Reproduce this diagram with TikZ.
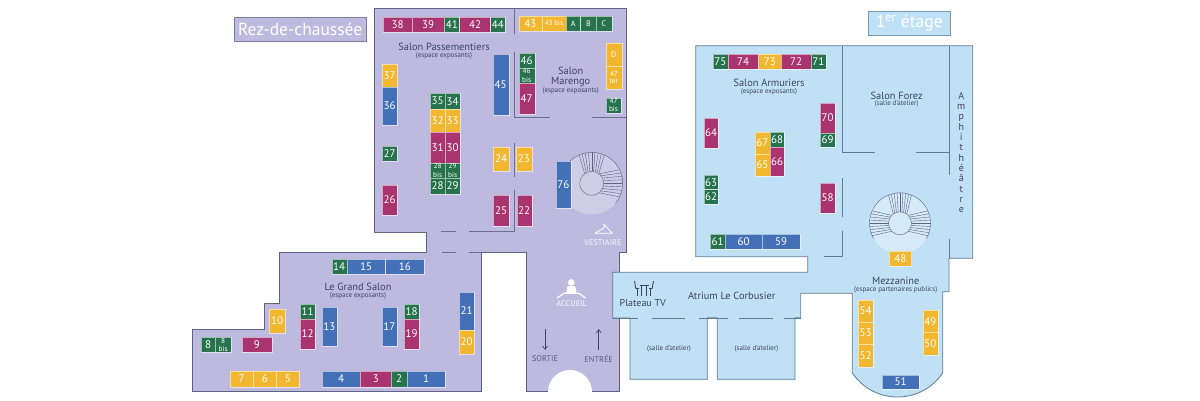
\documentclass[tikz,border=0pt]{standalone}
\usepackage{fontspec}
\setmainfont{PT Sans}
\usetikzlibrary{arrows.meta}
\definecolor{rdc}{HTML}{BDB9DF}
\definecolor{etg}{HTML}{BFE0F5}
\definecolor{rdclight}{HTML}{CFCCE8}
\definecolor{etglight}{HTML}{D5EAF8}
\definecolor{wallr}{HTML}{5E6285}
\definecolor{walle}{HTML}{5C7C98}
\definecolor{sblue}{HTML}{4470B8}
\definecolor{smag}{HTML}{A9346F}
\definecolor{sgreen}{HTML}{26734D}
\definecolor{syel}{HTML}{F2B731}
\definecolor{ink}{HTML}{3D4660}
\newcommand\stand[7]{%
  \pgfmathsetmacro\sw{#4-#2}\pgfmathsetmacro\sh{#5-#3}%
  \node[standbox,fill=#1,minimum width=\sw pt,minimum height=\sh pt] (#6) at ({(#2+#4)/2},{(#3+#5)/2}) {#7};}
\newcommand\bislab[2]{\fontsize{7.3}{6.4}\selectfont\shortstack{#1\\#2}}
\tikzset{
  standbox/.style={inner sep=0pt,outer sep=0pt,draw=white,draw opacity=.55,line width=.4pt,text=white,align=center,font=\fontsize{11}{11}\selectfont},
  floorr/.style={fill=rdc,draw=wallr,line width=.8pt,line join=miter},
  floore/.style={fill=etg,draw=walle,line width=.8pt,line join=miter},
  wallR/.style={draw=wallr!85!rdc,line width=1pt},
  wallE/.style={draw=walle,line width=.9pt},
  title/.style={inner sep=0pt,text=ink,font=\fontsize{10.4}{10.4}\selectfont},
  sub/.style={inner sep=0pt,text=ink,font=\fontsize{7}{7}\selectfont},
  caps/.style={inner sep=0pt,font=\fontsize{8.3}{8.3}\selectfont},
  flagbox/.style={inner sep=0pt,text=white,font=\fontsize{17.5}{17.5}\selectfont},
  stepline/.style={draw=wallr,line width=.4pt},
  icon/.style={draw=white,line width=.8pt,line join=round},
  tvline/.style={draw=ink,line width=.9pt},
}
\begin{document}
\begin{tikzpicture}[x=1pt,y=-1pt]
\useasboundingbox (0,0) rectangle (1200,400);
% ---- ground floor
\path[floorr] (374,8) -- (626.5,8) -- (626.5,252) -- (619,252) -- (619,391.5) -- (526,391.5) -- (526,252) -- (481,252) -- (481,391.5) -- (192,391.5) -- (192,329) -- (264,329) -- (264,303) -- (279,303) -- (279,252) -- (426,252) -- (426,232) -- (374,232) -- cycle;
\fill[white] (570,392) circle[radius=22];
\draw[wallR] (514.7,8) -- (514.7,34);
\draw[wallR] (514.7,51.7) -- (514.7,117.7) -- (550,117.7);
\draw[wallR] (591.7,117.7) -- (626,117.7);
\draw[wallR] (514,143) -- (514,177);
\draw[wallR] (514,190) -- (514,231) -- (469,231);
\draw[wallR] (441,231) -- (456,231);
\draw[wallR] (442,252) -- (456,252);
\draw[wallR] (469,252) -- (481,252);
% stairs ground
\begin{scope}[shift={(591.7,183.3)},yscale=-1]
  \fill[rdclight] (0,0) circle[radius=31];
  \draw[stepline] (-40:31) arc[start angle=-40,end angle=200,radius=31];
  \draw[stepline,fill=rdclight] (0,0) circle[radius=12];
  \foreach \i in {-4,...,4}{
    \draw[stepline] ({\i*13}:12) -- ({\i*6.5}:31);
    \draw[stepline] ({90+\i*9}:12) -- ({90+\i*6}:31);
  }
\end{scope}
% ---- first floor
\path[floore] (695.7,45.7) -- (972.7,45.7) -- (972.7,258.3) -- (949,258.3) -- (949,291.7) -- (942.7,291.7) -- (942.7,373) .. controls (921,405) and (874,405) .. (852.3,373) -- (852.3,293.3) -- (800.7,293.3) -- (800.7,317.7) -- (795,317.7) -- (795,379.3) -- (717.3,379.3) -- (717.3,317.7) -- (707.3,317.7) -- (707.3,379.3) -- (630,379.3) -- (630,318) -- (612.7,318) -- (612.7,272.3) -- (807.7,272.3) -- (807.7,256.7) -- (695.7,256.7) -- cycle;
\draw[wallE] (842.3,45.7) -- (842.3,152.7) -- (875,152.7);
\draw[wallE] (916,152.7) -- (949,152.7);
\draw[wallE] (949,45.7) -- (949,175);
\draw[wallE] (949,239.3) -- (949,258.3);
\draw[wallE] (842.3,178) -- (842.3,217.3);
\draw[wallE] (842.3,230.7) -- (842.3,256) -- (824.3,256);
\draw[wallE] (612.7,318) -- (638,318);
\draw[wallE] (652.3,318) -- (685,318);
\draw[wallE] (699,318) -- (728.3,318);
\draw[wallE] (739.3,318) -- (772.7,318);
\draw[wallE] (784,318) -- (800.7,318);
% stairs first floor
\begin{scope}[shift={(900,223.3)},yscale=-1]
  \fill[etglight] (0,0) circle[radius=30.5];
  \draw[stepline] (-30:30.5) arc[start angle=-30,end angle=210,radius=30.5];
  \draw[stepline,fill=etglight] (0,0) circle[radius=11.5];
  \foreach \i in {-4,...,4}{
    \draw[stepline] ({\i*11}:11.5) -- ({\i*6}:30.5);
    \draw[stepline] ({180+\i*11}:11.5) -- ({180+\i*6}:30.5);
    \draw[stepline] ({90+\i*9}:11.5) -- ({90+\i*5.5}:30.5);
  }
\end{scope}
% ---- flags
\node[flagbox,fill=rdc,draw=wallr!70!rdc,line width=.6pt,minimum width=131.5pt,minimum height=24pt] (rdcflag) at (300.2,29) {Rez-de-chaussée};
\node[flagbox,fill=etg,draw=walle!70!etg,line width=.6pt,minimum width=81.7pt,minimum height=23.3pt] (etgflag) at (909.2,23.3) {1\textsuperscript{er} étage};
% ---- ground stands
\stand{smag}{382.7}{17}{412.3}{32}{s38}{38}
\stand{smag}{412.3}{17}{444}{32}{s39}{39}
\stand{sgreen}{444}{17}{459.5}{32}{s41}{41}
\stand{smag}{459.5}{17}{490.5}{32}{s42}{42}
\stand{sgreen}{490.5}{17}{505}{32}{s44}{44}
\stand{syel}{518.7}{16}{542}{31}{s43}{43}
\stand{syel}{542}{16}{566}{31}{s43b}{\fontsize{7}{7}\selectfont 43 bis}
\stand{sgreen}{566}{16}{580.5}{31}{sA}{\fontsize{8}{8}\selectfont A}
\stand{sgreen}{580.5}{16}{596.3}{31}{sB}{\fontsize{8}{8}\selectfont B}
\stand{sgreen}{596.3}{16}{611.7}{31}{sC}{\fontsize{8}{8}\selectfont C}
\stand{sblue}{492.7}{54}{508.7}{115}{s45}{45}
\stand{sgreen}{518.7}{52.7}{534.7}{67.7}{s46}{46}
\stand{sgreen}{518.7}{67.7}{534.7}{83.3}{s46b}{\bislab{46}{bis}}
\stand{smag}{518.7}{83.3}{534.7}{114.3}{s47}{47}
\stand{syel}{606}{42.7}{621.7}{66}{sD}{\fontsize{8}{8}\selectfont D}
\stand{syel}{606}{66}{621.7}{89.3}{s47t}{\bislab{47}{ter}}
\stand{sgreen}{606}{97.7}{621}{112.7}{s47b}{\bislab{47}{bis}}
\stand{syel}{382}{64}{397.3}{87}{s37}{37}
\stand{sblue}{382}{87}{397.3}{125}{s36}{36}
\stand{sgreen}{382}{145.7}{397.3}{161}{s27}{27}
\stand{smag}{382}{185}{397.3}{215}{s26}{26}
\stand{sgreen}{430}{93.3}{445.3}{109}{s35}{35}
\stand{sgreen}{445.3}{93.3}{460}{109}{s34}{34}
\stand{syel}{430}{109}{445.3}{132.3}{s32}{32}
\stand{syel}{445.3}{109}{460}{132.3}{s33}{33}
\stand{smag}{430}{132.3}{445.3}{162.7}{s31}{31}
\stand{smag}{445.3}{132.3}{460}{162.7}{s30}{30}
\stand{sgreen}{430}{162.7}{445.3}{178.3}{s28b}{\bislab{28}{bis}}
\stand{sgreen}{445.3}{162.7}{460}{178.3}{s29b}{\bislab{29}{bis}}
\stand{sgreen}{430}{178.3}{445.3}{193.7}{s28}{28}
\stand{sgreen}{445.3}{178.3}{460}{193.7}{s29}{29}
\stand{syel}{493.3}{147.3}{509}{170.7}{s24}{24}
\stand{syel}{516}{147.3}{531.7}{170.7}{s23}{23}
\stand{smag}{493.3}{195}{508.7}{225.7}{s25}{25}
\stand{smag}{516.7}{195}{531.7}{225.7}{s22}{22}
\stand{sblue}{555.7}{160.7}{571}{207.7}{s76}{76}
% Grand Salon
\stand{sgreen}{331.7}{259}{346.7}{273.7}{s14}{14}
\stand{sblue}{346.7}{259}{385.6}{273.7}{s15}{15}
\stand{sblue}{385.6}{259}{424}{273.7}{s16}{16}
\stand{sgreen}{300}{304}{315}{318.7}{s11}{11}
\stand{smag}{300}{318.7}{315}{349.3}{s12}{12}
\stand{sblue}{321.7}{307}{337}{345.7}{s13}{13}
\stand{sblue}{382}{307}{396.7}{345.7}{s17}{17}
\stand{sgreen}{404}{304}{419}{318.7}{s18}{18}
\stand{smag}{404}{318.7}{419}{349}{s19}{19}
\stand{sblue}{459}{292}{474}{330}{s21}{21}
\stand{syel}{459}{330}{474}{354}{s20}{20}
\stand{syel}{269.3}{309.3}{284.7}{332.7}{s10}{10}
\stand{sgreen}{200.7}{337.3}{215.4}{352.3}{s8}{8}
\stand{sgreen}{215.4}{337.3}{231}{352.3}{s8b}{\bislab{8}{bis}}
\stand{smag}{241.7}{337.3}{272}{352.3}{s9}{9}
\stand{syel}{229.7}{371}{253.3}{386.7}{s7}{7}
\stand{syel}{253.3}{371}{276.3}{386.7}{s6}{6}
\stand{syel}{276.3}{371}{299.3}{386.7}{s5}{5}
\stand{sblue}{322}{371}{360.3}{386.7}{s4}{4}
\stand{smag}{360.3}{371}{391.3}{386.7}{s3}{3}
\stand{sgreen}{391.3}{371}{406.7}{386.7}{s2}{2}
\stand{sblue}{406.7}{371}{445.3}{386.7}{s1}{1}
% ---- first floor stands
\stand{sgreen}{712.7}{54}{727.9}{69}{s75}{75}
\stand{smag}{727.9}{54}{758.5}{69}{s74}{74}
\stand{syel}{758.5}{54}{781.3}{69}{s73}{73}
\stand{smag}{781.3}{54}{810.8}{69}{s72}{72}
\stand{sgreen}{810.8}{54}{825.7}{69}{s71}{71}
\stand{smag}{820.3}{102.7}{835}{132.7}{s70}{70}
\stand{sgreen}{820.3}{132.7}{835}{147}{s69}{69}
\stand{smag}{703.7}{118}{718.3}{148}{s64}{64}
\stand{syel}{754.7}{132}{770}{154}{s67}{67}
\stand{syel}{754.7}{154}{770}{176}{s65}{65}
\stand{sgreen}{770}{132}{784.3}{146.7}{s68}{68}
\stand{smag}{770}{146.7}{784.3}{176}{s66}{66}
\stand{sgreen}{703.7}{175}{718.3}{189.5}{s63}{63}
\stand{sgreen}{703.7}{189.5}{718.3}{204}{s62}{62}
\stand{smag}{820.3}{183}{835}{212.7}{s58}{58}
\stand{sgreen}{710}{234}{725}{248.7}{s61}{61}
\stand{sblue}{725}{234}{762.3}{248.7}{s60}{60}
\stand{sblue}{762.3}{234}{800}{248.7}{s59}{59}
\stand{syel}{889}{251}{911.5}{266}{s48}{48}
\stand{syel}{858}{300}{873}{321.7}{s54}{54}
\stand{syel}{858}{321.7}{873}{344}{s53}{53}
\stand{syel}{858}{344}{873}{366.7}{s52}{52}
\stand{syel}{923}{310.3}{937.7}{332.3}{s49}{49}
\stand{syel}{923}{332.3}{937.7}{355}{s50}{50}
\stand{sblue}{882}{375}{919}{389}{s51}{51}
% ---- titles
\node[title] (tPass) at (444,47) {Salon Passementiers};
\node[sub] (sPass) at (444,56) {(espace exposants)};
\node[title,align=center,font=\fontsize{10.4}{10}\selectfont] (tMar) at (570.7,76.7) {Salon\\Marengo};
\node[sub] (sMar) at (570.7,90.7) {(espace exposants)};
\node[title] (tGS) at (358,286.7) {Le Grand Salon};
\node[sub] (sGS) at (358,295.7) {(espace exposants)};
\node[title] (tArm) at (769,83.3) {Salon Armuriers};
\node[sub] (sArm) at (769,91.7) {(espace exposants)};
\node[title] (tFor) at (896.7,95.7) {Salon Forez};
\node[sub] (sFor) at (896.7,103.7) {(salle d'atelier)};
\node[title] (tAtr) at (731.7,295.7) {Atrium Le Corbusier};
\node[title] (tMez) at (895.7,280.7) {Mezzanine};
\node[sub] (sMez) at (895.7,289.3) {(espace partenaires publics)};
\node[sub] (sal1) at (669,349) {(salle d'atelier)};
\node[sub] (sal2) at (756.5,349) {(salle d'atelier)};
\node[title,font=\fontsize{10}{10}\selectfont] (tTV) at (642.7,303.3) {Plateau TV};
\node[title,align=center,font=\fontsize{10}{10.33}\selectfont] (tAmp) at (961.3,152.5) {A\\m\\p\\h\\i\\t\\h\\é\\â\\t\\r\\e};
\node[caps,text=white!85!rdc] (tVes) at (603,242.7) {VESTIAIRE};
\node[caps,text=white!90!rdc] (tAcc) at (571.7,303.3) {ACCUEIL};
\node[caps,text=ink!80!rdc] (tSor) at (545,359) {SORTIE};
\node[caps,text=ink!80!rdc] (tEnt) at (598.7,359) {ENTRÉE};
% arrows
\coordinate (sorA) at (545,329);
\coordinate (sorB) at (545,350);
\coordinate (entA) at (598.7,350);
\coordinate (entB) at (598.7,329);
\draw[draw=ink,line width=.6pt,-{Straight Barb[length=3.5pt,width=5pt]}] (sorA) -- (sorB);
\draw[draw=ink,line width=.6pt,-{Straight Barb[length=3.5pt,width=5pt]}] (entA) -- (entB);
% icons
\draw[icon] (603.3,224) .. controls (605.5,224) and (605,227) .. (603.3,228.3) -- (595,233.3) -- (612.3,233.3) -- cycle;
\fill[white] (571.3,282.5) circle[radius=3.3];
\fill[white,rounded corners=1pt] (567.3,286.2) -- (575.3,286.2) -- (576.5,293.5) -- (566.2,293.5) -- cycle;
\draw[icon,line width=1.2pt] (557,298) -- (564,293.3) -- (579,293.3) -- (585.5,298);
\draw[tvline] (634.5,281) -- (635.8,288.5) -- (639,288.5);
\draw[tvline] (637.5,288.5) -- (637.5,296);
\draw[tvline] (653.5,281) -- (652.2,288.5) -- (649,288.5);
\draw[tvline] (650.5,288.5) -- (650.5,296);
\draw[tvline] (639.5,285.5) -- (648.5,285.5);
\draw[tvline] (641.5,285.5) -- (641.5,296);
\draw[tvline] (646.5,285.5) -- (646.5,296);
\end{tikzpicture}
\end{document}
